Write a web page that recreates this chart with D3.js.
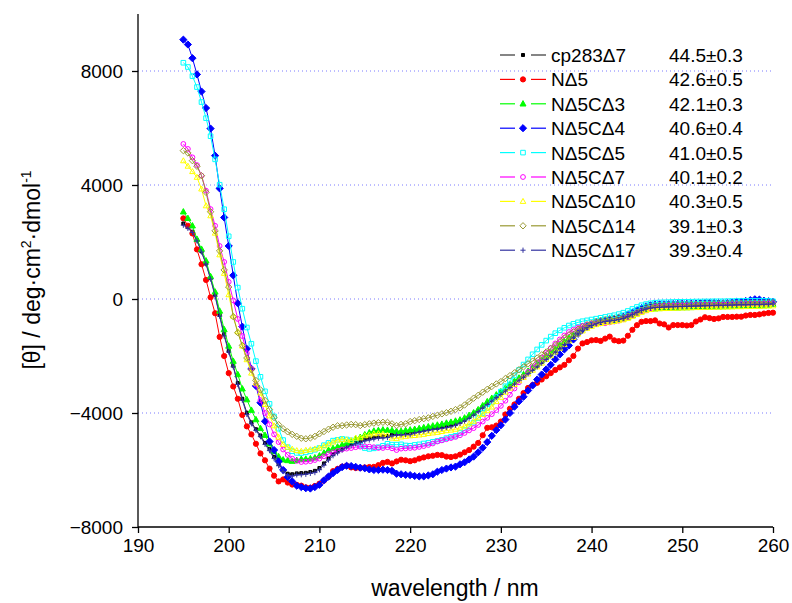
<!DOCTYPE html>
<html><head><meta charset="utf-8">
<script src="https://cdn.jsdelivr.net/npm/d3@7/dist/d3.min.js"></script>
<style>
body{margin:0;background:#fff}
svg{display:block}
text{font-family:Arial,"Liberation Sans",sans-serif;fill:#000}
</style>
</head><body>
<svg id="chart" width="792" height="603"></svg>
<script>
// ---------- data ----------
const wavelengths = d3.range(195, 260.25, 0.5); // 0.5 nm sampling, 195–260 nm

const seriesNames = ["cp283Δ7","NΔ5","NΔ5CΔ3","NΔ5CΔ4","NΔ5CΔ5","NΔ5CΔ7","NΔ5CΔ10","NΔ5CΔ14","NΔ5CΔ17"];
const meltingTemps = ["44.5±0.3","42.6±0.5","42.1±0.3","40.6±0.4","41.0±0.5","40.1±0.2","40.3±0.5","39.1±0.3","39.3±0.4"];

const cp283d7 = [2650,2520,2360,2060,1670,1240,730,150,-560,-1230,-1820,
-2340,-2950,-3500,-3990,-4330,-4570,-4790,-5050,-5270,-5540,
-5790,-5990,-6130,-6150,-6120,-6110,-6100,-6070,-6030,-5930,
-5770,-5590,-5440,-5340,-5240,-5140,-5080,-5020,-4980,-4920,
-4890,-4860,-4830,-4820,-4810,-4760,-4730,-4730,-4720,-4710,
-4660,-4630,-4600,-4570,-4540,-4520,-4500,-4470,-4440,-4390,
-4320,-4240,-4140,-4030,-3910,-3780,-3660,-3540,-3420,-3310,
-3190,-3070,-2940,-2810,-2700,-2580,-2460,-2340,-2210,-2080,
-1950,-1820,-1690,-1560,-1430,-1300,-1180,-1070,-980,-900,
-840,-800,-770,-750,-730,-700,-660,-600,-530,-450,
-380,-330,-300,-280,-270,-260,-255,-250,-245,-240,
-235,-230,-225,-220,-215,-210,-205,-200,-200,-195,
-190,-185,-180,-180,-175,-170,-165,-160,-150,-120];

const nd5 = [2830,2570,2300,1740,1220,670,60,-500,-1330,-2000,-2600,
-3070,-3500,-4070,-4470,-4750,-5080,-5420,-5660,-5950,-6200,
-6400,-6330,-6440,-6510,-6520,-6550,-6610,-6620,-6560,-6480,
-6370,-6240,-6040,-5960,-5880,-5850,-5910,-5930,-5930,-5910,
-5895,-5890,-5830,-5750,-5715,-5770,-5700,-5640,-5660,-5690,
-5660,-5600,-5560,-5520,-5500,-5470,-5480,-5530,-5545,-5520,
-5460,-5380,-5300,-5180,-5050,-4780,-4520,-4500,-4440,-4300,
-4050,-3850,-3700,-3500,-3300,-3120,-3020,-2940,-2825,-2710,
-2600,-2490,-2400,-2310,-2150,-2000,-1740,-1560,-1510,-1450,
-1440,-1470,-1390,-1320,-1450,-1480,-1460,-1290,-1080,-920,
-800,-775,-775,-750,-860,-890,-1000,-915,-915,-915,
-930,-915,-790,-720,-640,-670,-700,-680,-630,-630,
-630,-620,-620,-580,-560,-560,-540,-510,-490,-480];

const nd5cd3 = [3060,2830,2570,2100,1750,1340,790,250,-420,-1070,-1650,
-2180,-2650,-3150,-3530,-3900,-4230,-4540,-4780,-5080,-5350,
-5530,-5640,-5665,-5690,-5660,-5620,-5614,-5600,-5570,-5500,
-5400,-5300,-5240,-5190,-5120,-5060,-4990,-4900,-4850,-4760,
-4690,-4630,-4610,-4590,-4600,-4610,-4640,-4640,-4610,-4590,
-4570,-4540,-4510,-4480,-4450,-4420,-4390,-4350,-4320,-4280,
-4240,-4170,-4080,-3990,-3880,-3740,-3600,-3480,-3360,-3250,
-3120,-3000,-2880,-2770,-2650,-2530,-2400,-2270,-2140,-2010,
-1880,-1750,-1620,-1490,-1370,-1250,-1140,-1040,-960,-890,
-840,-800,-780,-760,-740,-720,-690,-640,-570,-490,
-420,-370,-350,-340,-330,-320,-320,-310,-310,-300,
-300,-295,-290,-285,-280,-275,-270,-270,-265,-260,
-260,-255,-250,-245,-240,-240,-235,-230,-225,-180];

const nd5cd4 = [9100,8930,8450,7880,7280,6700,5980,5030,3880,2860,1860,
830,-150,-970,-1750,-2450,-3050,-3640,-4290,-5000,-5300,
-5700,-6000,-6250,-6400,-6550,-6600,-6640,-6650,-6600,-6520,
-6360,-6230,-6110,-6000,-5900,-5850,-5860,-5890,-5920,-5940,
-5980,-6000,-6000,-5990,-6000,-6030,-6130,-6150,-6170,-6180,
-6210,-6225,-6225,-6190,-6150,-6060,-6000,-5950,-5910,-5880,
-5800,-5730,-5630,-5530,-5380,-5220,-5020,-4800,-4600,-4430,
-4230,-4000,-3780,-3590,-3430,-3210,-3035,-2825,-2650,-2470,
-2310,-2120,-1945,-1770,-1630,-1420,-1220,-1080,-980,-900,
-840,-790,-760,-730,-700,-660,-620,-560,-480,-400,
-320,-260,-220,-200,-190,-185,-180,-175,-170,-165,
-170,-165,-160,-150,-140,-135,-140,-145,-150,-140,
-120,-100,-90,-70,-40,-10,-20,-60,-80,-100];

const nd5cd5 = [8290,8140,7820,7436,6910,6345,5712,4900,4010,3150,2200,
1300,400,-340,-1000,-1570,-2180,-2730,-3240,-3680,-4120,
-4550,-4950,-5200,-5340,-5400,-5404,-5380,-5345,-5290,-5230,
-5130,-5050,-4970,-4940,-4910,-4930,-4960,-5050,-5140,-5230,
-5260,-5240,-5200,-5150,-5080,-5110,-5110,-5100,-5140,-5150,
-5120,-5100,-5070,-5050,-5010,-4980,-4940,-4880,-4840,-4800,
-4700,-4600,-4480,-4340,-4180,-4000,-3820,-3630,-3440,-3250,
-3060,-2870,-2680,-2490,-2300,-2120,-1940,-1770,-1610,-1460,
-1320,-1200,-1100,-1010,-930,-870,-820,-780,-750,-720,
-690,-660,-630,-600,-570,-530,-480,-420,-350,-280,
-220,-180,-150,-130,-120,-115,-110,-105,-100,-100,
-100,-95,-90,-90,-85,-85,-80,-80,-80,-75,
-75,-70,-70,-65,-60,-60,-60,-60,-70,-80];

const nd5cd7 = [5440,5265,4970,4700,4330,3800,3155,2570,1860,1300,600,
-50,-700,-1300,-1900,-2450,-3000,-3550,-4000,-4400,-4750,
-5020,-5280,-5470,-5600,-5680,-5720,-5710,-5690,-5650,-5600,
-5520,-5440,-5380,-5330,-5280,-5250,-5230,-5200,-5180,-5170,
-5180,-5200,-5225,-5227,-5200,-5240,-5300,-5250,-5240,-5227,
-5220,-5190,-5160,-5120,-5070,-5000,-4960,-4920,-4880,-4840,
-4780,-4700,-4610,-4530,-4420,-4300,-4170,-4040,-3900,-3750,
-3570,-3360,-3140,-2920,-2740,-2560,-2390,-2220,-2060,-1890,
-1720,-1560,-1420,-1280,-1160,-1080,-1000,-940,-900,-860,
-855,-855,-850,-820,-790,-760,-710,-640,-570,-500,
-440,-400,-330,-280,-260,-250,-240,-240,-235,-230,
-225,-220,-215,-210,-210,-205,-200,-200,-195,-190,
-185,-180,-180,-175,-170,-170,-165,-160,-160,-150];

const nd5cd10 = [4850,4660,4470,4270,3860,3270,2920,2310,1550,900,150,
-600,-1150,-1650,-2130,-2600,-2950,-3300,-3700,-4100,-4450,
-4850,-5100,-5200,-5270,-5320,-5345,-5310,-5290,-5262,-5230,
-5160,-5090,-5020,-4950,-4935,-4940,-4960,-4880,-4875,-4800,
-4770,-4730,-4724,-4740,-4790,-4880,-4900,-4840,-4820,-4800,
-4790,-4770,-4750,-4720,-4700,-4680,-4650,-4620,-4600,-4570,
-4520,-4460,-4380,-4290,-4170,-4050,-3920,-3790,-3600,-3450,
-3270,-3130,-3000,-2870,-2750,-2630,-2500,-2380,-2250,-2120,
-1990,-1860,-1730,-1600,-1470,-1350,-1230,-1120,-1030,-960,
-900,-860,-830,-810,-790,-760,-730,-680,-610,-540,
-470,-410,-370,-350,-340,-335,-330,-325,-320,-315,
-310,-305,-300,-300,-295,-290,-290,-285,-280,-280,
-275,-270,-270,-265,-260,-260,-255,-250,-245,-240];

const nd5cd14 = [5205,5125,4854,4657,4326,3742,3060,2392,1688,1020,420,
-620,-1180,-1630,-2070,-2480,-2860,-3190,-3560,-3880,-4160,
-4410,-4550,-4660,-4750,-4820,-4885,-4905,-4875,-4820,-4730,
-4650,-4570,-4500,-4450,-4443,-4420,-4400,-4410,-4440,-4410,
-4380,-4355,-4340,-4326,-4330,-4380,-4440,-4400,-4380,-4300,
-4270,-4230,-4200,-4170,-4120,-4080,-4030,-3990,-3940,-3880,
-3820,-3720,-3600,-3480,-3380,-3270,-3170,-3070,-2980,-2900,
-2790,-2690,-2590,-2480,-2380,-2270,-2180,-2070,-1960,-1860,
-1740,-1620,-1500,-1370,-1260,-1150,-1060,-980,-900,-850,
-790,-760,-730,-700,-680,-660,-650,-600,-540,-470,
-390,-300,-250,-230,-220,-215,-210,-205,-200,-200,
-195,-190,-185,-180,-180,-175,-170,-165,-160,-160,
-155,-150,-150,-145,-140,-140,-140,-135,-130,-130];

const nd5cd17 = [2590,2480,2335,2040,1650,1220,700,100,-600,-1300,-1860,
-2380,-3000,-3550,-4050,-4380,-4610,-4830,-5100,-5320,-5600,
-5850,-6050,-6200,-6210,-6170,-6166,-6150,-6120,-6090,-5990,
-5830,-5650,-5500,-5400,-5300,-5200,-5140,-5080,-5040,-4980,
-4945,-4910,-4880,-4875,-4860,-4800,-4770,-4770,-4760,-4760,
-4700,-4670,-4640,-4610,-4580,-4560,-4540,-4510,-4480,-4430,
-4360,-4280,-4180,-4070,-3950,-3820,-3700,-3580,-3460,-3350,
-3230,-3110,-2980,-2850,-2740,-2620,-2500,-2380,-2250,-2120,
-1990,-1860,-1730,-1600,-1470,-1340,-1220,-1110,-1010,-930,
-870,-820,-790,-770,-750,-720,-680,-620,-550,-470,
-400,-350,-320,-300,-290,-280,-275,-270,-265,-260,
-255,-250,-245,-240,-235,-230,-225,-220,-220,-215,
-210,-205,-200,-200,-195,-190,-190,-185,-180,-170];

const seriesValues = [cp283d7, nd5, nd5cd3, nd5cd4, nd5cd5, nd5cd7, nd5cd10, nd5cd14, nd5cd17];

const xTickValues = [190,200,210,220,230,240,250,260];
const yTickValues = [-8000,-4000,0,4000,8000];
const gridValues = [-4000,0,4000,8000];

// ---------- styles ----------
const colors = ["#000000","#ff0000","#00ff00","#0000ff","#00ffff","#ff00ff","#ffff00","#999933","#3333a0"];
const lineColors = ["#333333","#ff0000","#00ff00","#0000ff","#00ffff","#ff00ff","#ffff00","#999933","#3333a0"];
const symbolPaths = [
  "M-1.5,-1.5h3v3h-3z",
  "M-2.6,0a2.6,2.6 0 1,0 5.2,0a2.6,2.6 0 1,0 -5.2,0z",
  "M0,-3.2L3,2.2L-3,2.2Z",
  "M0,-3.6L3.6,0L0,3.6L-3.6,0Z",
  "M-2.3,-2.3h4.6v4.6h-4.6z",
  "M-2.4,0a2.4,2.4 0 1,0 4.8,0a2.4,2.4 0 1,0 -4.8,0z",
  "M0,-3L2.8,2L-2.8,2Z",
  "M0,-3.2L3.2,0L0,3.2L-3.2,0Z",
  "M-2.6,0H2.6M0,-2.6V2.6"
];
const filled = [true,true,true,true,false,false,false,false,false];

// ---------- chart ----------
const svg = d3.select("#chart");
const x = d3.scaleLinear().domain([190,260]).range([138,773]);
const y = d3.scaleLinear().domain([-8000,10000]).range([527,14]);

// grid
svg.append("g").selectAll("line").data(gridValues).join("line")
  .attr("x1", x(190)).attr("x2", x(260))
  .attr("y1", d => y(d)).attr("y2", d => y(d))
  .attr("stroke", "#7a7aff").attr("stroke-width", 1)
  .attr("stroke-dasharray", "1,3");

// series
const line = d3.line().x((d,i) => x(wavelengths[i])).y(d => y(d));
seriesValues.forEach((vals, s) => {
  const g = svg.append("g");
  g.append("path").attr("d", line(vals)).attr("fill","none")
    .attr("stroke", lineColors[s]).attr("stroke-width", 1);
  g.selectAll("path.m").data(vals).join("path").attr("class","m")
    .attr("transform", (d,i) => `translate(${x(wavelengths[i])},${y(d)})`)
    .attr("d", symbolPaths[s])
    .attr("fill", filled[s] ? colors[s] : "none")
    .attr("stroke", colors[s]).attr("stroke-width", 1);
});

// axes
const xAxis = d3.axisBottom(x).tickValues(xTickValues).tickSize(6).tickPadding(6).tickFormat(d3.format("d"));
const yAxis = d3.axisLeft(y).tickValues(yTickValues).tickSize(6).tickPadding(9).tickFormat(d3.format("d"));
const gx = svg.append("g").attr("transform", `translate(0,${y(-8000)})`).call(xAxis);
const gy = svg.append("g").attr("transform", `translate(${x(190)},0)`).call(yAxis);
[gx, gy].forEach(g => {
  g.select(".domain").attr("stroke","#000").attr("stroke-width",1.3);
  g.selectAll(".tick line").attr("stroke","#000").attr("stroke-width",1.3);
  g.selectAll(".tick text").attr("font-family","Arial, 'Liberation Sans', sans-serif")
    .attr("font-size", 19).attr("fill","#000");
});
gx.select(".domain").attr("d", `M${x(190)},0H${x(260)}`);
gy.select(".domain").attr("d", `M0,${y(10000)}V${y(-8000)}`);

// axis titles
svg.append("text").attr("x", 455).attr("y", 596).attr("text-anchor","middle")
  .attr("font-size", 23).text("wavelength / nm");

const yt = svg.append("text").attr("transform","translate(40,270) rotate(-90)")
  .attr("text-anchor","middle").attr("font-size", 23);
yt.append("tspan").text("[θ] / deg·cm");
yt.append("tspan").attr("font-size", 14).attr("dy", -9).text("2");
yt.append("tspan").attr("dy", 9).text("·dmol");
yt.append("tspan").attr("font-size", 14).attr("dy", -9).text("-1");

// legend
const legend = svg.append("g");
seriesNames.forEach((name, s) => {
  const ly = 55 + s * 24.4;
  const row = legend.append("g");
  row.append("line").attr("x1", 500).attr("x2", 515).attr("y1", ly).attr("y2", ly)
    .attr("stroke", lineColors[s]).attr("stroke-width", 1.2);
  row.append("line").attr("x1", 531).attr("x2", 546).attr("y1", ly).attr("y2", ly)
    .attr("stroke", lineColors[s]).attr("stroke-width", 1.2);
  row.append("path").attr("transform", `translate(523,${ly})`).attr("d", symbolPaths[s])
    .attr("fill", filled[s] ? colors[s] : "none").attr("stroke", colors[s]).attr("stroke-width", 1);
  row.append("text").attr("x", 551).attr("y", ly + 7).attr("font-size", 19).text(name);
  row.append("text").attr("x", 669).attr("y", ly + 7).attr("font-size", 19).text(meltingTemps[s]);
});
</script>
</body></html>
